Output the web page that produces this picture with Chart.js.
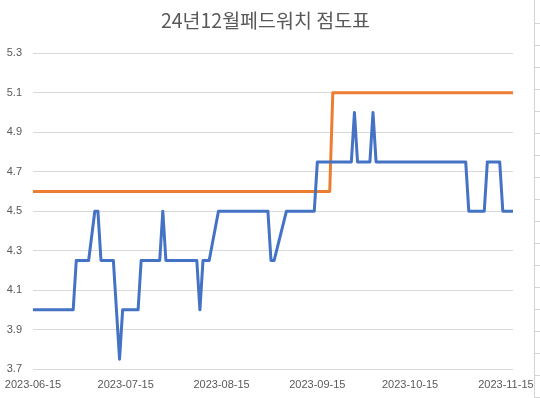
<!DOCTYPE html>
<html>
<head>
<meta charset="utf-8">
<script src="https://cdn.jsdelivr.net/npm/chart.js@4"></script>
<style>
  html, body { margin: 0; padding: 0; background: #ffffff; }
  #wrap { width: 540px; height: 398px; position: relative; }
</style>
</head>
<body>
<div id="wrap"><canvas id="c" width="540" height="398"></canvas></div>
<script>
const chartTitle = '24년12월페드워치 점도표';

const fedwatchDates = ['2023-06-15','2023-06-28','2023-06-29','2023-07-03','2023-07-05','2023-07-06','2023-07-07','2023-07-11','2023-07-13','2023-07-14','2023-07-19','2023-07-20','2023-07-26','2023-07-27','2023-07-28','2023-08-07','2023-08-08','2023-08-09','2023-08-11','2023-08-14','2023-08-30','2023-08-31','2023-09-01','2023-09-05','2023-09-14','2023-09-15','2023-09-26','2023-09-27','2023-09-28','2023-10-02','2023-10-03','2023-10-04','2023-11-02','2023-11-03','2023-11-08','2023-11-09','2023-11-13','2023-11-14','2023-11-17'];
const fedwatchValues = [4.0,4.0,4.25,4.25,4.5,4.5,4.25,4.25,3.75,4.0,4.0,4.25,4.25,4.5,4.25,4.25,4.0,4.25,4.25,4.5,4.5,4.25,4.25,4.5,4.5,4.75,4.75,5.0,4.75,4.75,5.0,4.75,4.75,4.5,4.5,4.75,4.75,4.5,4.5];

const dotPlotDates = ['2023-06-15','2023-09-19','2023-09-20','2023-11-17'];
const dotPlotValues = [4.6,4.6,5.1,5.1];

const xTickDates = ['2023-06-15','2023-07-15','2023-08-15','2023-09-15','2023-10-15','2023-11-15'];
const yTickValues = [3.7,3.9,4.1,4.3,4.5,4.7,4.9,5.1,5.3];

const baseDate = Date.parse('2023-06-15T00:00:00Z');
function toDay(d) { return Math.round((Date.parse(d + 'T00:00:00Z') - baseDate) / 86400000); }
function toPoints(dates, vals) { return dates.map((d, i) => ({ x: toDay(d), y: vals[i] })); }
const dayToLabel = {};
xTickDates.forEach(d => { dayToLabel[toDay(d)] = d; });
const lastDay = toDay(fedwatchDates[fedwatchDates.length - 1]);

const sheetLines = {
  id: 'sheetLines',
  afterDraw(chart) {
    const ctx = chart.ctx;
    ctx.save();
    ctx.strokeStyle = '#d4d4d4';
    ctx.lineWidth = 1;
    ctx.beginPath();
    ctx.moveTo(534.5, 0); ctx.lineTo(534.5, 398);
    for (let y = 23.5; y < 398; y += 22) { ctx.moveTo(535, y); ctx.lineTo(540, y); }
    ctx.stroke();
    ctx.restore();
  }
};

const labelFont = { family: "'Liberation Sans', Arial, sans-serif", size: 11 };

new Chart(document.getElementById('c'), {
  type: 'line',
  data: {
    datasets: [
      { label: 'FedWatch', data: toPoints(fedwatchDates, fedwatchValues), borderColor: '#4472C4', borderWidth: 3, pointRadius: 0, tension: 0, borderJoinStyle: 'round', borderCapStyle: 'round', fill: false },
      { label: '점도표', data: toPoints(dotPlotDates, dotPlotValues), borderColor: '#ED7D31', borderWidth: 3, pointRadius: 0, tension: 0, borderJoinStyle: 'round', borderCapStyle: 'round', fill: false }
    ]
  },
  options: {
    responsive: false,
    animation: false,
    layout: { padding: { left: 0, right: 9, top: 0, bottom: 0 } },
    plugins: {
      legend: { display: false },
      tooltip: { enabled: false },
      title: {
        display: true,
        text: chartTitle,
        color: '#595959',
        font: { family: "'Noto Sans CJK KR', 'Noto Sans', sans-serif", size: 19.5, weight: 'normal' },
        padding: { top: 9, bottom: 21 }
      }
    },
    scales: {
      x: {
        type: 'linear',
        min: 0,
        max: lastDay + 0.3,
        grid: { display: false, drawTicks: false },
        border: { display: false },
        afterBuildTicks: (scale) => { scale.ticks = xTickDates.map(d => ({ value: toDay(d) })); },
        afterFit: (scale) => { scale.height = 29; scale.paddingRight = 0; scale.paddingLeft = 0; },
        ticks: {
          autoSkip: false, maxRotation: 0, minRotation: 0, padding: 9,
          color: '#595959', font: labelFont,
          callback: (v) => dayToLabel[v] || ''
        }
      },
      y: {
        min: 3.7,
        max: 5.3,
        grid: { color: '#d9d9d9', lineWidth: 1, drawTicks: false },
        border: { display: false },
        afterBuildTicks: (scale) => { scale.ticks = yTickValues.map(v => ({ value: v })); },
        afterFit: (scale) => { scale.width = 33; },
        ticks: {
          padding: 11, color: '#595959', font: labelFont,
          callback: (v) => Number(v).toFixed(1)
        }
      },
      yPad: {
        position: 'right',
        display: true,
        grid: { display: false, drawTicks: false },
        border: { display: false },
        ticks: { display: false },
        afterFit: (scale) => { scale.width = 18; }
      }
    }
  },
  plugins: [sheetLines]
});
</script>
</body>
</html>
